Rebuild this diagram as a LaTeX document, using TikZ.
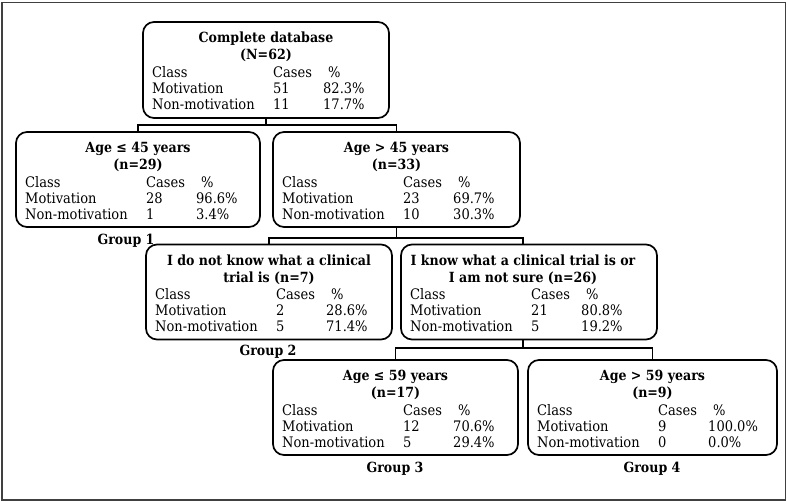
\documentclass[tikz,border=0pt]{standalone}
\usepackage{fontspec}
\setmainfont{DejaVu Serif Condensed}
\begin{document}
\begin{tikzpicture}[x=1pt,y=-1pt]
\tikzset{
 boxs/.style={draw=black, line width=1.7pt, rounded corners=11pt, inner sep=0pt, outer sep=0pt},
 ttl/.style={font=\bfseries\fontsize{14}{16}\selectfont, inner sep=0pt, text height=10pt, text depth=3pt, anchor=center},
 cell/.style={font=\fontsize{14.5}{16}\selectfont, inner sep=0pt, text height=10pt, text depth=3pt, anchor=west},
 grp/.style={font=\bfseries\fontsize{14}{16}\selectfont, inner sep=0pt, text height=10pt, text depth=3pt},
 conn/.style={line width=1.4pt, black},
 frame/.style={draw=black!75, line width=1.5pt}
}
\newcommand\boxtable[5]{%
 \path (#1.north west) ++(9,52) node[cell] (#1-c) {Class};
 \path (#1.north west) ++(130,52) node[cell] (#1-cs) {Cases};
 \path (#1.north west) ++(185,52) node[cell] (#1-p) {\%};
 \path (#1.north west) ++(9,68) node[cell] (#1-m) {Motivation};
 \path (#1.north west) ++(130,68) node[cell] (#1-mc) {#2};
 \path (#1.north west) ++(180,68) node[cell] (#1-mp) {#3};
 \path (#1.north west) ++(9,84) node[cell] (#1-n) {Non-motivation};
 \path (#1.north west) ++(130,84) node[cell] (#1-nc) {#4};
 \path (#1.north west) ++(180,84) node[cell] (#1-np) {#5};
}
\useasboundingbox (0,0) rectangle (787,502);
\draw[frame] (2,2.5) rectangle (785.5,500);

% boxes
\node[boxs, minimum width=246pt, minimum height=96pt] (root) at (266,70) {};
\node[boxs, minimum width=244pt, minimum height=95pt] (b1) at (138,179.5) {};
\node[boxs, minimum width=247pt, minimum height=95pt] (b2) at (396.5,179.5) {};
\node[boxs, minimum width=246pt, minimum height=95pt] (b3) at (269,292) {};
\node[boxs, minimum width=256pt, minimum height=95pt] (b4) at (529,292) {};
\node[boxs, minimum width=245pt, minimum height=95pt] (b5) at (395.5,407.5) {};
\node[boxs, minimum width=249pt, minimum height=95pt] (b6) at (652.5,407.5) {};
\coordinate (b4in) at (523,244.5);

% titles
\path (root.north) ++(0,17.5) node[ttl] (root-t1) {Complete database};
\path (root.north) ++(0,34.5) node[ttl] (root-t2) {(N=62)};
\path (b1.north) ++(0,17.5) node[ttl] (b1-t1) {Age ≤ 45 years};
\path (b1.north) ++(0,34.5) node[ttl] (b1-t2) {(n=29)};
\path (b2.north) ++(0,17.5) node[ttl] (b2-t1) {Age > 45 years};
\path (b2.north) ++(0,34.5) node[ttl] (b2-t2) {(n=33)};
\path (b3.north) ++(0,17.5) node[ttl] (b3-t1) {I do not know what a clinical};
\path (b3.north) ++(0,34.5) node[ttl] (b3-t2) {trial is (n=7)};
\path (b4in) ++(0,17.5) node[ttl] (b4-t1) {I know what a clinical trial is or};
\path (b4in) ++(0,34.5) node[ttl] (b4-t2) {I am not sure (n=26)};
\path (b5.north) ++(0,17.5) node[ttl] (b5-t1) {Age ≤ 59 years};
\path (b5.north) ++(0,34.5) node[ttl] (b5-t2) {(n=17)};
\path (b6.north) ++(0,17.5) node[ttl] (b6-t1) {Age > 59 years};
\path (b6.north) ++(0,34.5) node[ttl] (b6-t2) {(n=9)};

% tables
\boxtable{root}{51}{82.3\%}{11}{17.7\%}
\boxtable{b1}{28}{96.6\%}{1}{3.4\%}
\boxtable{b2}{23}{69.7\%}{10}{30.3\%}
\boxtable{b3}{2}{28.6\%}{5}{71.4\%}
\boxtable{b4}{21}{80.8\%}{5}{19.2\%}
\boxtable{b5}{12}{70.6\%}{5}{29.4\%}
\boxtable{b6}{9}{100.0\%}{0}{0.0\%}

% group labels
\node[grp] (g1) at (126,241.5) {Group 1};
\node[grp] (g2) at (268,352.5) {Group 2};
\node[grp] (g3) at (395,468.5) {Group 3};
\node[grp] (g4) at (652,468.5) {Group 4};

% connectors
\coordinate (j0) at (266,125);
\coordinate (j1) at (396.5,238);
\coordinate (j2) at (523,348);
\draw[conn] (root.south) -- (j0);
\draw[conn] (b1.north) |- (j0) -| (b2.north);
\draw[conn] (b2.south) -- (j1);
\draw[conn] (b3.north) |- (j1) -| (b4in);
\draw[conn] (b4in |- b4.south) -- (j2);
\draw[conn] (b5.north) |- (j2) -| (b6.north);
\end{tikzpicture}
\end{document}
